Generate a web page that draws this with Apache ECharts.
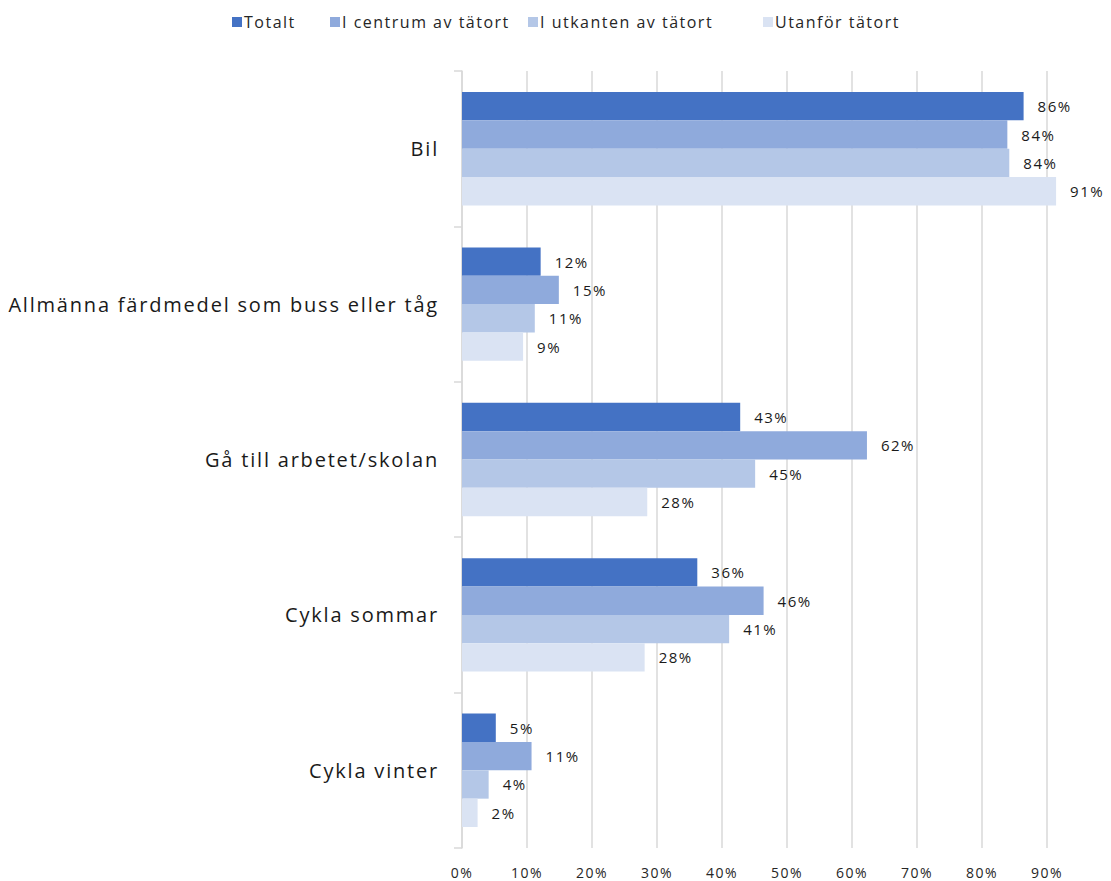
<!DOCTYPE html>
<html>
<head>
<meta charset="utf-8">
<script src="https://cdn.jsdelivr.net/npm/echarts@6/dist/echarts.min.js"></script>
<style>
html,body{margin:0;padding:0;background:#fff}
#c{width:1111px;height:881px}
#c svg text{letter-spacing:1.5px}
#c svg text[style*="20px"]{letter-spacing:1.8px}
</style>
</head>
<body>
<div id="c"></div>
<script>
const categories = ['Bil', 'Allmänna färdmedel som buss eller tåg', 'Gå till arbetet/skolan', 'Cykla sommar', 'Cykla vinter'];
const seriesNames = ['Totalt', 'I centrum av tätort', 'I utkanten av tätort', 'Utanför tätort'];
const totalt = [0.864, 0.121, 0.428, 0.362, 0.052];
const centrum = [0.839, 0.149, 0.623, 0.464, 0.107];
const utkanten = [0.842, 0.112, 0.451, 0.411, 0.041];
const utanfor = [0.914, 0.094, 0.285, 0.281, 0.024];
const colors = ['#4472C4', '#8FAADC', '#B4C7E7', '#DAE3F3'];
const seriesData = [totalt, centrum, utkanten, utanfor];
const legendLeft = [232, 330, 528, 763];

const font = 'Open Sans';
const chart = echarts.init(document.getElementById('c'), null, {renderer: 'svg'});
chart.setOption({
  animation: false,
  color: colors,
  legend: seriesNames.map((n, i) => ({
    top: 14, left: legendLeft[i], padding: 0,
    itemWidth: 10, itemHeight: 10,
    icon: 'rect',
    textStyle: {fontFamily: font, fontSize: 16, color: '#262626', padding: [0, 0, 0, -3]},
    data: [n]
  })),
  grid: {left: 462, right: 51, top: 71, bottom: 33, containLabel: false},
  xAxis: {
    type: 'value', min: 0, max: 0.92, interval: 0.1,
    axisLine: {show: false}, axisTick: {show: false},
    splitLine: {show: true, showMaxLine: false, lineStyle: {color: '#D9D9D9', width: 1.5}},
    axisLabel: {
      fontFamily: font, fontSize: 14, color: '#262626', margin: 17, showMaxLabel: false,
      formatter: v => (Math.abs(v * 10 - Math.round(v * 10)) < 1e-6 ? Math.round(v * 100) + '%' : '')
    }
  },
  yAxis: {
    type: 'category', inverse: true, data: categories,
    axisLine: {show: true, lineStyle: {color: '#D9D9D9', width: 1.5}},
    axisTick: {show: true, length: 8, lineStyle: {color: '#D9D9D9', width: 1.5}},
    axisLabel: {fontFamily: font, fontSize: 20, color: '#1a1a1a', margin: 23}
  },
  series: seriesNames.map((n, i) => ({
    name: n, type: 'bar', data: seriesData[i],
    barGap: '0%', barCategoryGap: '27%',
    itemStyle: {color: colors[i]},
    label: {
      show: true, position: 'right', distance: 14,
      fontFamily: font, fontSize: 15, color: '#1a1a1a',
      formatter: p => Math.round(p.value * 100) + '%'
    }
  }))
});
</script>
</body>
</html>
